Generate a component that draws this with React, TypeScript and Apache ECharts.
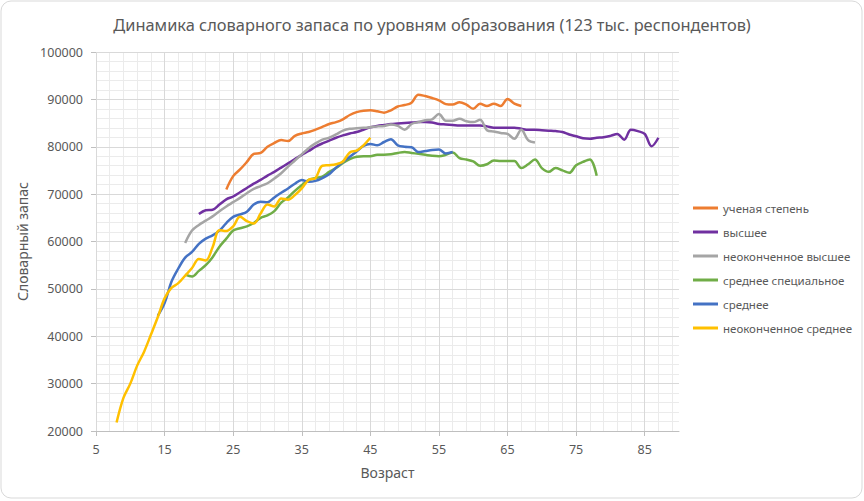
import React, { useEffect, useRef } from "react";
import * as echarts from "echarts";

const titleText = "Динамика словарного запаса по уровням образования (123 тыс. респондентов)";
const xName = "Возраст";
const yName = "Словарный запас";

const seriesNames = [
  "ученая степень",
  "высшее",
  "неоконченное высшее",
  "среднее специальное",
  "среднее",
  "неоконченное среднее",
];
const seriesColors = ["#ED7D31", "#7030A0", "#A5A5A5", "#70AD47", "#4472C4", "#FFC000"];

// start ages of each series (values are per year of age)
const startAges = [24, 20, 18, 18, 14, 8];

const uchenaya = [
  71000, 73800, 75200, 76800, 78500, 78700, 80000, 80800, 81400, 81200,
  82300, 82800, 83100, 83600, 84200, 84800, 85200, 85800, 86700, 87300,
  87600, 87700, 87500, 87200, 87700, 88500, 88800, 89300, 91000, 90700,
  90300, 89800, 89000, 88900, 89400, 88900, 88000, 89100, 88600, 89100,
  88600, 90100, 89100, 88600,
];
const vysshee = [
  65800, 66600, 66700, 67800, 68900, 69500, 70400, 71300, 72200, 73000,
  73900, 74700, 75600, 76500, 77400, 78300, 79100, 80000, 80700, 81300,
  81900, 82400, 82800, 83100, 83600, 84100, 84400, 84600, 84800, 84900,
  85000, 85100, 85200, 85200, 85100, 84800, 84700, 84600, 84500, 84500,
  84500, 84500, 84300, 84000, 84000, 84000, 84000, 83800, 83600, 83600,
  83500, 83400, 83300, 83100, 82600, 82200, 81800, 81700, 81900, 82000,
  82300, 82700, 81500, 83600, 83300, 82700, 80100, 81900,
];
const neokVysshee = [
  59700, 62300, 63500, 64400, 65300, 66400, 67400, 68300, 69200, 70200,
  71100, 71700, 72300, 73300, 74400, 75800, 77100, 78400, 79700, 80700,
  81500, 81900, 82600, 83400, 83800, 83900, 84000, 84100, 84300, 84400,
  84700, 84400, 83600, 84800, 85200, 85600, 85800, 86900, 85500, 85500,
  85900, 85400, 85200, 85700, 83500, 83200, 82900, 82700, 81700, 83600,
  81400, 80900,
];
const sredSpec = [
  53000, 52600, 53800, 55000, 56700, 58900, 60600, 62300, 62800, 63200,
  63900, 65000, 65500, 66400, 68200, 69300, 70700, 71900, 73000, 73400,
  73700, 74700, 75500, 76600, 77400, 77900, 78000, 78000, 78300, 78300,
  78400, 78700, 78900, 78700, 78500, 78300, 78100, 78000, 78300, 78800,
  77600, 77300, 76900, 76000, 76300, 77100, 77000, 77000, 77000, 75500,
  76300, 77300, 75500, 74700, 75500, 75000, 74500, 76100, 76800, 77300,
  73900,
];
const srednee = [
  44300, 47000, 51500, 54300, 56600, 57800, 59500, 60600, 61300, 62300,
  63900, 65200, 65700, 66300, 67800, 68400, 68300, 69300, 70300, 71200,
  72200, 73000, 72600, 72800, 73400, 74200, 75600, 76800, 77900, 79000,
  80200, 80600, 80300, 81000, 81600, 80300, 80000, 79900, 78900, 79100,
  79300, 79400, 78600, 78900,
];
const neokSrednee = [
  21800, 27000, 30000, 33800, 36700, 40300, 44000, 48000, 50200, 51200,
  52800, 54400, 56300, 56000, 58800, 62400, 62200, 63200, 65200, 64300,
  63800, 65900, 67800, 67400, 69100, 68800, 69800, 71200, 73000, 73400,
  76000, 76100, 76300, 76900, 78800, 79200, 80300, 81900,
];

const allValues = [uchenaya, vysshee, neokVysshee, sredSpec, srednee, neokSrednee];

const xMin = 5;
const xMax = 90;
const xInterval = 10;
const xMinorInterval = 2;
const yMin = 20000;
const yMax = 100000;
const yInterval = 10000;

const FONT = "'Noto Sans', sans-serif";
const TXT = "#595959";

export default function App() {
  const ref = useRef<HTMLDivElement>(null);
  useEffect(() => {
    if (!ref.current) return;
    const chart = echarts.init(ref.current, undefined, { renderer: "svg" });
    const series = allValues.map((vals, i) => ({
      name: seriesNames[i],
      type: "line",
      xAxisIndex: 0,
      yAxisIndex: 0,
      data: vals.map((v, k) => [startAges[i] + k, v]),
      smooth: 0.35,
      showSymbol: false,
      symbol: "none",
      lineStyle: { color: seriesColors[i], width: 2.5 },
      itemStyle: { color: seriesColors[i] },
      z: 3,
    }));
    chart.setOption({
      animation: false,
      textStyle: { fontFamily: FONT },
      title: {
        text: titleText,
        left: "center",
        top: 11,
        textStyle: { color: TXT, fontSize: 16.4, fontWeight: "normal", fontFamily: FONT },
      },
      graphic: [
        {
          type: "rect",
          shape: { x: 1, y: 1, width: 861, height: 497, r: 10 },
          style: { fill: "none", stroke: "#D9D9D9", lineWidth: 1 },
          silent: true,
        },
      ],
      legend: {
        orient: "vertical",
        left: 688,
        top: 196,
        itemWidth: 25,
        itemHeight: 3,
        itemGap: 10,
        icon: "rect",
        textStyle: { color: TXT, fontSize: 11.5, lineHeight: 14, fontFamily: FONT },
        data: seriesNames,
      },
      grid: { left: 96, right: 185, top: 52, bottom: 70 },
      xAxis: [
        {
          type: "value",
          min: xMin,
          max: xMax,
          interval: xInterval,
          z: 1,
          name: xName,
          nameLocation: "middle",
          nameGap: 34,
          nameTextStyle: { color: TXT, fontSize: 14, fontFamily: FONT },
          axisLine: { show: true, lineStyle: { color: "#BFBFBF", width: 1 } },
          axisTick: { show: true, length: 5, lineStyle: { color: "#BFBFBF" } },
          axisLabel: { color: TXT, fontSize: 12.5, margin: 12, showMaxLabel: false, fontFamily: FONT },
          splitLine: { show: true, showMaxLine: false, lineStyle: { color: "#D9D9D9", width: 1 } },
        },
        {
          type: "value",
          min: xMin,
          max: xMax,
          interval: xMinorInterval,
          position: "bottom",
          z: 0,
          axisLine: { show: false },
          axisTick: { show: false },
          axisLabel: { show: false },
          splitLine: { show: true, showMaxLine: false, lineStyle: { color: "#EBEBEB", width: 1 } },
        },
      ],
      yAxis: {
        type: "value",
        min: yMin,
        max: yMax,
        interval: yInterval,
        z: 1,
        name: yName,
        nameLocation: "middle",
        nameGap: 53,
        nameTextStyle: { color: TXT, fontSize: 14, fontFamily: FONT },
        axisLine: { show: false },
        axisTick: { show: true, length: 5, lineStyle: { color: "#BFBFBF" } },
        axisLabel: {
          color: TXT,
          fontSize: 12.5,
          margin: 13,
          fontFamily: FONT,
          formatter: (v: number) => String(v),
        },
        splitLine: { show: true, lineStyle: { color: "#D9D9D9", width: 1 } },
        minorTick: { show: false, splitNumber: 5 },
        minorSplitLine: { show: true, lineStyle: { color: "#EBEBEB", width: 1 } },
      },
      series,
    });
    return () => chart.dispose();
  }, []);
  return (
    <div
      ref={ref}
      style={{ position: "fixed", left: 0, top: 0, width: 864, height: 501, background: "#fff" }}
    />
  );
}
